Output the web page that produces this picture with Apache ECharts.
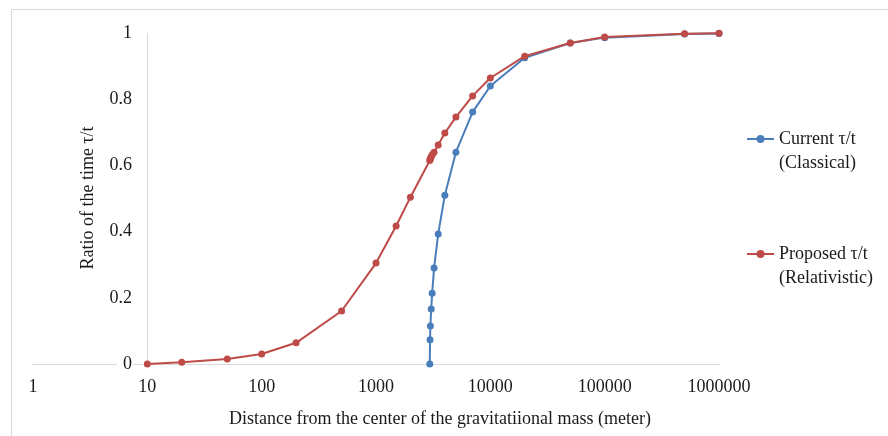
<!DOCTYPE html>
<html>
<head>
<meta charset="utf-8">
<script src="https://cdn.jsdelivr.net/npm/echarts@6/dist/echarts.min.js"></script>
<style>
html,body{margin:0;padding:0;background:#fff;}
#chart{width:888px;height:436px;}
</style>
</head>
<body>
<div id="chart"></div>
<script>
// ---- data ----
const classicalX = [2953, 2970, 2990, 3040, 3100, 3220, 3500, 4000, 5000, 7000, 10000, 20000, 50000, 100000, 500000, 1000000];
const classicalY = [0, 0.073, 0.115, 0.166, 0.214, 0.29, 0.393, 0.51, 0.64, 0.761, 0.84, 0.925, 0.97, 0.986, 0.997, 0.9985];

const relativisticX = [10, 20, 50, 100, 200, 500, 1000, 1500, 2000, 2953, 2970, 2990, 3040, 3100, 3220, 3500, 4000, 5000, 7000, 10000, 20000, 50000, 100000, 500000, 1000000];
const relativisticY = [0, 0.005, 0.015, 0.03, 0.064, 0.16, 0.305, 0.417, 0.504, 0.615, 0.618, 0.621, 0.626, 0.632, 0.64, 0.662, 0.698, 0.746, 0.81, 0.864, 0.93, 0.97, 0.988, 0.998, 0.999];

const xTickLabels = ['1', '10', '100', '1000', '10000', '100000', '1000000'];
const yTickLabels = ['0', '0.2', '0.4', '0.6', '0.8', '1'];

const seriesNames = ['Current \u03c4/t\n(Classical)', 'Proposed \u03c4/t\n(Relativistic)'];
const xAxisTitle = 'Distance from the center of the gravitatiional mass (meter)';
const yAxisTitle = 'Ratio of the time \u03c4/t';

// ---- chart ----
const FONT = "'Liberation Serif', 'DejaVu Serif', serif";
const TEXT = '#1a1a1a';
const AXIS = '#d9d9d9';
const BLUE = '#4a7ebb';
const RED = '#be4b48';

const zip = (xs, ys) => xs.map((x, i) => [x, ys[i]]);

const chart = echarts.init(document.getElementById('chart'), null, {renderer: 'canvas'});
chart.setOption({
  animation: false,
  backgroundColor: '#fff',
  textStyle: {fontFamily: FONT},
  graphic: [{
    type: 'rect',
    silent: true,
    z: -10,
    shape: {x: 11.5, y: 9.5, width: 1000, height: 1000},
    style: {fill: 'none', stroke: AXIS, lineWidth: 1}
  }, {
    type: 'text',
    silent: true,
    x: 88,
    y: 198,
    rotation: Math.PI / 2,
    style: {
      text: yAxisTitle, fill: TEXT, font: "18px 'Liberation Serif', serif",
      align: 'center', verticalAlign: 'middle'
    }
  }],
  grid: {left: 33, right: 169, top: 33, bottom: 72, containLabel: false},
  legend: {
    orient: 'vertical',
    left: 741,
    top: 98,
    itemGap: 43,
    itemWidth: 27,
    itemHeight: 10,
    data: seriesNames,
    formatter: name => '\u00a0\n' + name,
    textStyle: {fontFamily: FONT, fontSize: 18, color: TEXT, lineHeight: 24}
  },
  xAxis: {
    type: 'log',
    logBase: 10,
    min: 1,
    max: 1000000,
    splitNumber: 6,
    name: xAxisTitle,
    nameLocation: 'middle',
    nameGap: 46,
    nameTextStyle: {fontFamily: FONT, fontSize: 18, color: TEXT, padding: [0, 0, 0, 128]},
    axisLine: {show: true, lineStyle: {color: AXIS, width: 1}},
    axisTick: {show: false},
    splitLine: {show: false},
    minorTick: {show: false},
    axisLabel: {
      fontFamily: FONT, fontSize: 18, color: TEXT, margin: 14,
      formatter: v => xTickLabels[Math.round(Math.log10(v))]
    }
  },
  yAxis: {
    type: 'value',
    min: 0,
    max: 1,
    interval: 0.2,
    z: 5,
    axisLine: {show: false},
    axisTick: {show: false},
    splitLine: {show: false},
    axisLabel: {
      fontFamily: FONT, fontSize: 18, color: TEXT, margin: -100,
      backgroundColor: '#fff', padding: [0, 1, 0, 6],
      formatter: v => yTickLabels[Math.round(v / 0.2)]
    }
  },
  series: [
    {
      name: seriesNames[0],
      type: 'line',
      data: zip(classicalX, classicalY),
      symbol: 'circle',
      symbolSize: 7,
      itemStyle: {color: BLUE},
      lineStyle: {color: BLUE, width: 2},
      z: 3,
      markLine: {
        silent: true,
        symbol: ['none', 'none'],
        label: {show: false},
        lineStyle: {color: AXIS, width: 1, type: 'solid'},
        data: [{xAxis: 10}],
        z: 1
      }
    },
    {
      name: seriesNames[1],
      type: 'line',
      data: zip(relativisticX, relativisticY),
      symbol: 'circle',
      symbolSize: 7,
      itemStyle: {color: RED},
      lineStyle: {color: RED, width: 2},
      z: 4
    }
  ]
});
</script>
</body>
</html>
